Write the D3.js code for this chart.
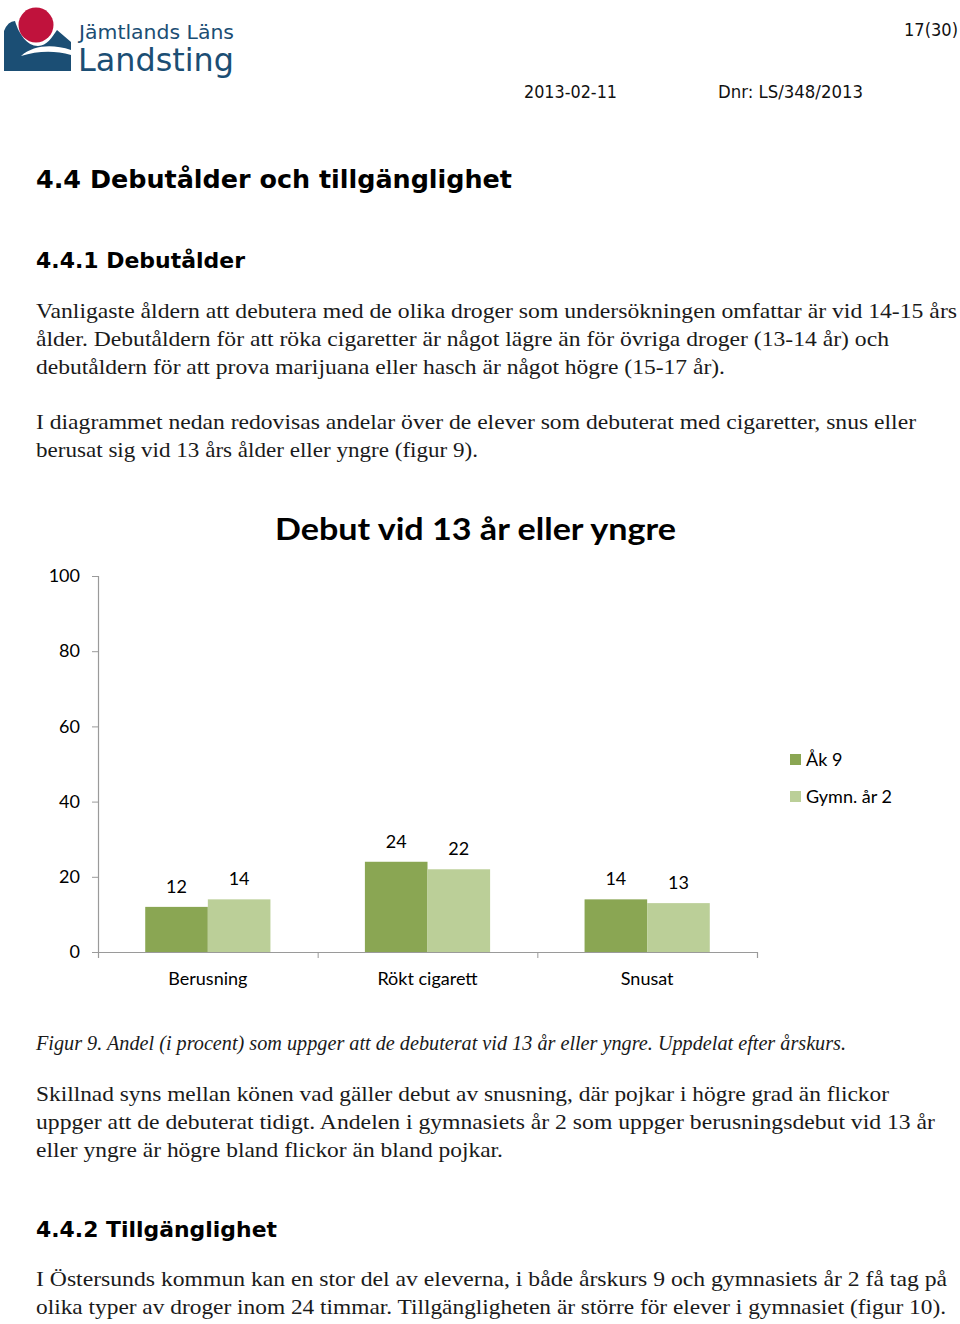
<!DOCTYPE html>
<html>
<head>
<meta charset="utf-8">
<script src="https://cdn.jsdelivr.net/npm/d3@7"></script>
<style>
  html, body { margin: 0; padding: 0; background: #fff; }
  svg { display: block; }
</style>
</head>
<body>
<div id="page"></div>
<script>
// ---------- data ----------
const categories = ["Berusning", "Rökt cigarett", "Snusat"];
const seriesNames = ["Åk 9", "Gymn. år 2"];
const ak9 = [12, 24, 14];
const gymn2 = [14, 22, 13];
const yTicks = [0, 20, 40, 60, 80, 100];
const chartTitle = "Debut vid 13 år eller yngre";
const seriesColors = ["#8aa653", "#bbcf98"];

const paragraph1 = [
  "Vanligaste åldern att debutera med de olika droger som undersökningen omfattar är vid 14-15 års",
  "ålder. Debutåldern för att röka cigaretter är något lägre än för övriga droger (13-14 år) och",
  "debutåldern för att prova marijuana eller hasch är något högre (15-17 år)."
];
const paragraph2 = [
  "I diagrammet nedan redovisas andelar över de elever som debuterat med cigaretter, snus eller",
  "berusat sig vid 13 års ålder eller yngre (figur 9)."
];
const caption = "Figur 9. Andel (i procent) som uppger att de debuterat vid 13 år eller yngre. Uppdelat efter årskurs.";
const paragraph3 = [
  "Skillnad syns mellan könen vad gäller debut av snusning, där pojkar i högre grad än flickor",
  "uppger att de debuterat tidigt. Andelen i gymnasiets år 2 som uppger berusningsdebut vid 13 år",
  "eller yngre är högre bland flickor än bland pojkar."
];
const paragraph4 = [
  "I Östersunds kommun kan en stor del av eleverna, i både årskurs 9 och gymnasiets år 2 få tag på",
  "olika typer av droger inom 24 timmar. Tillgängligheten är större för elever i gymnasiet (figur 10)."
];

// ---------- page ----------
const W = 960, H = 1324;
const svg = d3.select("#page").append("svg").attr("width", W).attr("height", H);

// logo
const logo = svg.append("g");
logo.append("path")
  .attr("d", "M4,71 L4,31 Q8,21 15,21 C19,34 27,46 38,46 C47,46 52,37 57,30 L71,42 L71,71 Z")
  .attr("fill", "#1b4e74");
logo.append("path")
  .attr("d", "M21,56 C34,45 52,44 71,50 L71,55 C54,50 37,51 21,56 Z")
  .attr("fill", "#fff");
logo.append("circle").attr("cx", 36).attr("cy", 25).attr("r", 17.5).attr("fill", "#c0123c");
logo.append("text").attr("x", 79).attr("y", 39)
  .attr("font-family", "DejaVu Sans, Verdana, sans-serif").attr("font-size", 19)
  .attr("fill", "#1b4e74").attr("textLength", 155).attr("lengthAdjust", "spacingAndGlyphs")
  .text("Jämtlands Läns");
logo.append("text").attr("x", 78).attr("y", 71)
  .attr("font-family", "DejaVu Sans, Verdana, sans-serif").attr("font-size", 32)
  .attr("fill", "#1b4e74").attr("textLength", 156).attr("lengthAdjust", "spacingAndGlyphs")
  .text("Landsting");

// header info
const hdrFont = "DejaVu Sans, Tahoma, sans-serif";
function htext(x, y, s, len, size) {
  svg.append("text").attr("x", x).attr("y", y).attr("font-family", hdrFont)
    .attr("font-size", size).attr("fill", "#111")
    .attr("textLength", len).attr("lengthAdjust", "spacingAndGlyphs").text(s);
}
htext(904, 36, "17(30)", 54, 17);
htext(524, 98, "2013-02-11", 93, 17);
htext(718, 98, "Dnr: LS/348/2013", 145, 17);

// headings
function heading(x, y, s, len, size) {
  svg.append("text").attr("x", x).attr("y", y)
    .attr("font-family", "DejaVu Sans, Verdana, sans-serif").attr("font-weight", "bold")
    .attr("font-size", size).attr("fill", "#000")
    .attr("textLength", len).attr("lengthAdjust", "spacingAndGlyphs").text(s);
}
heading(36, 188, "4.4  Debutålder och tillgänglighet", 476, 24);
heading(36, 268, "4.4.1  Debutålder", 209, 21);
heading(36, 1237, "4.4.2 Tillgänglighet", 241, 22);

// body paragraphs
const serif = "Liberation Serif, Times New Roman, serif";
function para(lines, y0, ends, italic) {
  lines.forEach((s, i) => {
    svg.append("text").attr("x", 36).attr("y", y0 + i * 28)
      .attr("font-family", serif).attr("font-size", 22)
      .attr("font-style", italic ? "italic" : "normal")
      .attr("fill", "#1a1a1a")
      .attr("textLength", ends[i] - 36).attr("lengthAdjust", "spacingAndGlyphs")
      .text(s);
  });
}
para(paragraph1, 318, [957, 889, 725]);
para(paragraph2, 429, [916, 478]);
para([caption], 1050, [846], true);
para(paragraph3, 1101, [889, 935, 503]);
para(paragraph4, 1286, [947, 946]);

// ---------- chart ----------
const chartFont = "Lato, Open Sans, sans-serif";
const x0 = 98, x1 = 757, yTop = 576, yBot = 952;

const y = d3.scaleLinear().domain([0, 100]).range([yBot, yTop]);
const xCat = d3.scaleBand().domain(categories).range([x0, x1])
  .paddingInner(0.43).paddingOuter(0.215);
const xSer = d3.scaleBand().domain(seriesNames).range([0, xCat.bandwidth()]);
const xIdx = d3.scaleLinear().domain([0, categories.length]).range([x0, x1]);
const color = d3.scaleOrdinal().domain(seriesNames).range(seriesColors);

const chart = svg.append("g");

// title
chart.append("text").attr("x", 275).attr("y", 540)
  .attr("font-family", chartFont).attr("font-weight", "bold").attr("font-size", 31)
  .attr("fill", "#000").attr("textLength", 401).attr("lengthAdjust", "spacingAndGlyphs")
  .text(chartTitle);

// y axis
const yAxis = chart.append("g").attr("transform", `translate(${x0},0)`)
  .call(d3.axisLeft(y).tickValues(yTicks).tickSize(6).tickPadding(12).tickFormat(d3.format("d")));
yAxis.select(".domain").attr("stroke", "#9a9a9a").attr("stroke-width", 1.2);
yAxis.selectAll(".tick line").attr("stroke", "#9a9a9a");
yAxis.selectAll(".tick text").attr("font-family", chartFont).attr("font-size", 18).attr("fill", "#000");

// bars
const data = categories.map((c, i) => ({ cat: c, vals: [
  { s: seriesNames[0], v: ak9[i] },
  { s: seriesNames[1], v: gymn2[i] }
]}));

const groups = chart.selectAll("g.grp").data(data).join("g")
  .attr("class", "grp")
  .attr("transform", d => `translate(${xCat(d.cat)},0)`);

groups.selectAll("rect").data(d => d.vals).join("rect")
  .attr("x", d => xSer(d.s))
  .attr("width", xSer.bandwidth())
  .attr("y", d => y(d.v))
  .attr("height", d => y(0) - y(d.v))
  .attr("fill", d => color(d.s));

groups.selectAll("text.val").data(d => d.vals).join("text")
  .attr("class", "val")
  .attr("x", d => xSer(d.s) + xSer.bandwidth() / 2)
  .attr("y", d => y(d.v) - 14)
  .attr("text-anchor", "middle")
  .attr("font-family", chartFont).attr("font-size", 18).attr("fill", "#000")
  .text(d => d.v);

// x axis
const xAxis = chart.append("g").attr("transform", `translate(0,${yBot})`)
  .call(d3.axisBottom(xIdx).tickValues(d3.range(categories.length + 1)).tickSize(6).tickFormat(""));
xAxis.select(".domain").attr("stroke", "#9a9a9a").attr("stroke-width", 1.2);
xAxis.selectAll(".tick line").attr("stroke", "#9a9a9a");

chart.selectAll("text.cat").data(categories).join("text")
  .attr("class", "cat")
  .attr("x", d => xCat(d) + xCat.bandwidth() / 2)
  .attr("y", 985)
  .attr("text-anchor", "middle")
  .attr("font-family", chartFont).attr("font-size", 18).attr("fill", "#000")
  .text(d => d);

// legend
const legend = chart.selectAll("g.leg").data(seriesNames).join("g")
  .attr("class", "leg")
  .attr("transform", (d, i) => `translate(790,${754 + i * 37})`);
legend.append("rect").attr("width", 11).attr("height", 11).attr("fill", d => color(d));
legend.append("text").attr("x", 16).attr("y", 12)
  .attr("font-family", chartFont).attr("font-size", 18).attr("fill", "#000")
  .text(d => d);
</script>
</body>
</html>
